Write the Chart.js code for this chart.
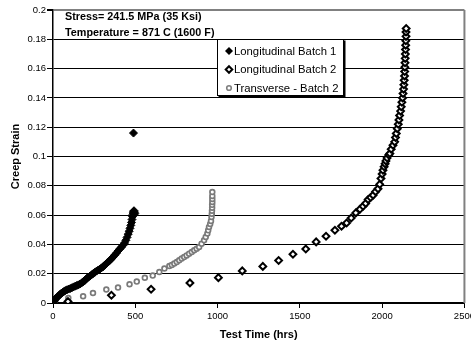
<!DOCTYPE html>
<html>
<head>
<meta charset="utf-8">
<script src="https://cdn.jsdelivr.net/npm/chart.js@4"></script>
<style>
  html, body { margin: 0; padding: 0; background: #fff; overflow: hidden; }
  #wrap { width: 478px; height: 345px; position: relative; }
</style>
</head>
<body>
<div id="wrap"><canvas id="creepChart"></canvas></div>
<script>
// data (hours, strain)
const batch1Hours = [0, 5, 10, 15, 20, 28, 35, 42, 50, 58, 66, 75, 85, 95, 105, 115, 125, 135, 145, 155,
  165, 175, 185, 195, 205, 215, 225, 235, 245, 255, 265, 275, 285, 295, 305, 315, 325, 335, 345, 355,
  365, 375, 385, 395, 405, 415, 425, 435, 443, 450, 457, 463, 468, 473, 477, 480, 483, 486, 488, 490,
  492, 495, 497, 489];
const batch1Strain = [0, 0.001, 0.002, 0.0028, 0.0034, 0.0042, 0.005, 0.0058, 0.0066, 0.0072, 0.0078, 0.0085, 0.009, 0.0095, 0.0099, 0.0104, 0.011, 0.0115, 0.012, 0.0124,
  0.013, 0.0138, 0.0146, 0.0155, 0.0168, 0.0176, 0.0184, 0.0193, 0.0202, 0.021, 0.0218, 0.0225, 0.0232, 0.024, 0.0248, 0.0259, 0.027, 0.028, 0.029, 0.0302,
  0.0314, 0.0327, 0.034, 0.0355, 0.0368, 0.038, 0.0394, 0.041, 0.0428, 0.0448, 0.047, 0.049, 0.051, 0.053, 0.055, 0.057, 0.059, 0.0605, 0.0615, 0.0625,
  0.063, 0.062, 0.061, 0.116];

const batch2Hours = [0, 91, 355, 596, 832, 1005, 1150, 1275, 1371, 1458, 1536, 1599, 1659, 1713, 1753, 1784, 1812, 1840,
  1865, 1884, 1900, 1915, 1930, 1945, 1960, 1975, 1985, 1993, 2000, 2005, 2012, 2018, 2023, 2030, 2040, 2047, 2055, 2066,
  2076, 2081, 2086, 2092, 2098, 2102, 2106, 2112, 2116, 2120, 2124, 2127, 2130, 2132, 2134, 2136, 2137, 2138, 2139, 2140,
  2141, 2142, 2143, 2144, 2145, 2145, 2146];
const batch2Strain = [0, 0.001, 0.0053, 0.0094, 0.0137, 0.0173, 0.0219, 0.025, 0.029, 0.0333, 0.0369, 0.0417, 0.0456, 0.0497, 0.0524, 0.0546, 0.058, 0.0615,
  0.064, 0.066, 0.068, 0.0706, 0.072, 0.0736, 0.076, 0.078, 0.081, 0.085, 0.088, 0.0906, 0.093, 0.095, 0.097, 0.099, 0.101, 0.102, 0.105, 0.1077,
  0.11, 0.113, 0.1157, 0.119, 0.122, 0.125, 0.128, 0.131, 0.134, 0.137, 0.14, 0.143, 0.146, 0.149, 0.152, 0.155, 0.158, 0.161, 0.164, 0.167,
  0.17, 0.173, 0.176, 0.179, 0.182, 0.185, 0.1874];

const transHours = [0, 10, 93, 183, 243, 324, 395, 465, 509, 558, 606, 646, 677, 707, 722, 737, 752, 767, 782, 797, 812,
  827, 843, 858, 873, 888, 903, 918, 928, 938, 943, 948, 955, 960, 963, 965, 966, 967, 967, 968, 968, 968, 968];
const transStrain = [0, 0.001, 0.0034, 0.0046, 0.0068, 0.0092, 0.0105, 0.0128, 0.0146, 0.0172, 0.0187, 0.0212, 0.0235, 0.0252, 0.026, 0.0269, 0.028, 0.0292, 0.0303, 0.0314, 0.0325,
  0.0337, 0.0348, 0.036, 0.037, 0.0382, 0.0405, 0.0428, 0.045, 0.0474, 0.0496, 0.0519, 0.054, 0.056, 0.0587, 0.061, 0.063, 0.065, 0.067, 0.069, 0.071, 0.073, 0.0758];

const seriesNames = ["Longitudinal Batch 1", "Longitudinal Batch 2", "Transverse - Batch 2"];
const xTicks = [0, 500, 1000, 1500, 2000, 2500];
const yTicks = [0, 0.02, 0.04, 0.06, 0.08, 0.1, 0.12, 0.14, 0.16, 0.18, 0.2];
const notes = ["Stress= 241.5 MPa (35 Ksi)", "Temperature = 871 C (1600 F)"];

const FONT = "'Liberation Sans', Arial, sans-serif";

function toPoints(xs, ys) {
    return xs.map((x, i) => ({ x, y: ys[i] }));
}

function diamond(ctx, x, y, r) {
    ctx.beginPath();
    ctx.moveTo(x, y - r);
    ctx.lineTo(x + r, y);
    ctx.lineTo(x, y + r);
    ctx.lineTo(x - r, y);
    ctx.closePath();
}

const overlay = {
    id: "overlay",
    afterDraw(chart) {
        const { ctx, chartArea: a } = chart;
        ctx.save();

        // right frame
        ctx.strokeStyle = "#808080";
        ctx.lineWidth = 2;
        ctx.beginPath();
        ctx.moveTo(a.right, a.top);
        ctx.lineTo(a.right, a.bottom);
        ctx.stroke();

        // test conditions
        ctx.fillStyle = "#000";
        ctx.font = "bold 10.8px " + FONT;
        ctx.textBaseline = "middle";
        ctx.textAlign = "left";
        notes.forEach((t, i) => ctx.fillText(t, a.left + 12, a.top + 7.5 + i * 15.5));

        // legend
        const lx = a.left + 164, ly = a.top + 29, lw = 127, lh = 57;
        ctx.fillStyle = "#000";
        ctx.fillRect(lx + 1.5, ly + 1.5, lw, lh);
        ctx.fillStyle = "#fff";
        ctx.fillRect(lx, ly, lw, lh);
        ctx.strokeStyle = "#000";
        ctx.lineWidth = 1;
        ctx.strokeRect(lx + 0.5, ly + 0.5, lw - 1, lh - 1);

        ctx.font = "11.3px " + FONT;
        seriesNames.forEach((name, i) => {
            const y = ly + 12 + i * 18.5;
            const mx = lx + 12;
            if (i === 0) {
                diamond(ctx, mx, y, 4);
                ctx.fillStyle = "#000";
                ctx.fill();
            } else if (i === 1) {
                diamond(ctx, mx, y, 3.3);
                ctx.fillStyle = "#fff";
                ctx.fill();
                ctx.strokeStyle = "#000";
                ctx.lineWidth = 2;
                ctx.stroke();
            } else {
                ctx.beginPath();
                ctx.arc(mx, y, 2.3, 0, Math.PI * 2);
                ctx.fillStyle = "#fff";
                ctx.fill();
                ctx.strokeStyle = "#808080";
                ctx.lineWidth = 1.6;
                ctx.stroke();
            }
            ctx.fillStyle = "#000";
            ctx.fillText(name, lx + 17, y + 0.5);
        });

        ctx.restore();
    }
};

const canvas = document.getElementById("creepChart");

new Chart(canvas.getContext("2d"), {
    type: "scatter",
    data: {
        datasets: [
            {
                label: seriesNames[0],
                data: toPoints(batch1Hours, batch1Strain),
                pointStyle: "rectRot",
                pointRadius: 4,
                backgroundColor: "#000",
                borderColor: "#000",
                borderWidth: 1
            },
            {
                label: seriesNames[1],
                data: toPoints(batch2Hours, batch2Strain),
                pointStyle: "rectRot",
                pointRadius: 3.4,
                backgroundColor: "#fff",
                borderColor: "#000",
                borderWidth: 2
            },
            {
                label: seriesNames[2],
                data: toPoints(transHours, transStrain),
                pointStyle: "circle",
                pointRadius: 2.4,
                backgroundColor: "#fff",
                borderColor: "#7a7a7a",
                borderWidth: 1.7
            }
        ]
    },
    options: {
        responsive: true,
        maintainAspectRatio: false,
        animation: false,
        layout: { padding: { top: 10, right: 11, bottom: 0, left: 0 } },
        plugins: {
            legend: { display: false },
            tooltip: { enabled: false }
        },
        scales: {
            x: {
                type: "linear",
                min: 0,
                max: 2500,
                afterBuildTicks: s => { s.ticks = xTicks.map(v => ({ value: v })); },
                afterFit: s => { s.height = 42; },
                grid: { drawOnChartArea: false, drawTicks: true, tickLength: 5, color: "#000", tickColor: "#000" },
                border: { color: "#000", width: 1.5 },
                ticks: {
                    color: "#000",
                    padding: 3,
                    maxRotation: 0,
                    font: { family: FONT, size: 9.5 },
                    callback: v => String(v)
                },
                title: {
                    display: true,
                    text: "Test Time (hrs)",
                    color: "#000",
                    font: { family: FONT, size: 11, weight: "bold" },
                    padding: { top: 0, bottom: 3.5 }
                }
            },
            y: {
                type: "linear",
                min: 0,
                max: 0.2,
                afterBuildTicks: s => { s.ticks = yTicks.map(v => ({ value: v })); },
                afterFit: s => { s.width = 53; },
                grid: {
                    color: c => (c.tick && c.tick.value === 0.2 ? "#808080" : "#000"),
                    lineWidth: c => (c.tick && c.tick.value === 0.2 ? 2 : 1),
                    tickColor: "#000",
                    tickLength: 6
                },
                border: { color: "#000", width: 1.5 },
                ticks: {
                    color: "#000",
                    padding: 1,
                    font: { family: FONT, size: 9.5 },
                    callback: v => String(+v.toFixed(2))
                },
                title: {
                    display: true,
                    text: "Creep Strain",
                    color: "#000",
                    font: { family: FONT, size: 11, weight: "bold" },
                    padding: { top: 9, bottom: 0 }
                }
            }
        }
    },
    plugins: [overlay]
});
</script>
</body>
</html>
